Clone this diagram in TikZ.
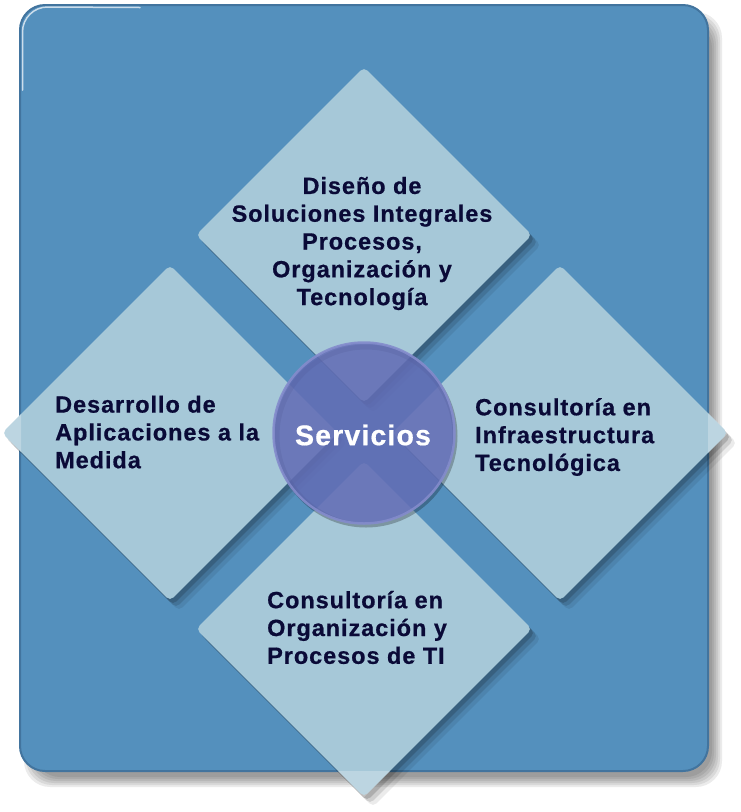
\documentclass[tikz,border=0pt]{standalone}
\usepackage{fontspec}
\setmainfont{Liberation Sans}[LetterSpace=4, BoldFeatures={FakeBold=0.6}]
\usetikzlibrary{shapes.geometric,shadows}
\definecolor{bgblue}{RGB}{84,144,189}
\definecolor{bgedge}{RGB}{66,116,158}
\definecolor{dia}{RGB}{166,200,216}
\definecolor{circ}{RGB}{98,108,180}
\definecolor{circrim}{RGB}{132,140,204}
\definecolor{txt}{RGB}{10,10,55}
\begin{document}
\begin{tikzpicture}[x=1pt,y=-1pt,
  diam/.style={diamond, aspect=1, minimum width=336pt, minimum height=336pt,
    inner sep=0pt, fill=dia, rounded corners=5pt,
    drop shadow={shadow xshift=9pt, shadow yshift=-10pt, opacity=0.08, fill=black},
    drop shadow={shadow xshift=6pt, shadow yshift=-7pt, opacity=0.12, fill=black},
    drop shadow={shadow xshift=3pt, shadow yshift=-4pt, opacity=0.16, fill=black}},
  lbl/.style={text=txt, inner sep=0pt, font=\fontsize{23.5}{27.8}\selectfont\bfseries},
  hub/.style={circle, minimum size=181pt, inner sep=0pt, fill=circ, fill opacity=0.86,
    draw=circrim, draw opacity=0.9, line width=2.5pt}]
\useasboundingbox (0,0) rectangle (741,812);
% background shadow
\foreach \d in {0,2,4,6,8,10}{
  \fill[black, opacity=0.08, rounded corners=26pt] (24+\d,12+\d) rectangle (722-\d,787-\d);
}
% background panel
\node[draw=bgedge, line width=2pt, fill=bgblue, rounded corners=25pt, inner sep=0pt,
  minimum width=688pt, minimum height=766pt] (panel) at (364,388) {};
\draw[white, opacity=0.7, line width=1.5pt, line cap=round]
  (22.5,90) -- (22.5,32) arc[start angle=180, end angle=270, radius=25] -- (140,7.5);
% diamonds
\node[diam] (dtop) at (364,235) {};
\node[diam] (dleft) at (170,433) {};
\node[diam] (dright) at (560,433) {};
\node[diam] (dbot) at (364,629) {};
% lighter tips outside the panel
\begin{scope}
  \clip (0,0) -- (21,0) -- (21,812) -- (0,812) -- cycle;
  \fill[white, opacity=0.25] (dleft.west) -- (dleft.north) -- (dleft.south) -- cycle;
\end{scope}
\begin{scope}
  \clip (708,0) -- (741,0) -- (741,812) -- (708,812) -- cycle;
  \fill[white, opacity=0.25] (dright.east) -- (dright.north) -- (dright.south) -- cycle;
\end{scope}
\begin{scope}
  \clip (0,771) -- (741,771) -- (741,812) -- (0,812) -- cycle;
  \fill[white, opacity=0.25] (dbot.south) -- (dbot.west) -- (dbot.east) -- cycle;
\end{scope}
% centre circle
\draw[black, opacity=0.25, line width=5pt] (366,436) circle[radius=89];
\node[hub] (hub) at (364,433) {};
\node[text=white, inner sep=0pt, font=\fontsize{28.5}{30}\selectfont\bfseries] (servicios) at (363,435) {Servicios};
% labels
\node[lbl, align=center] (ttop) at (362,243.5)
  {Diseño de\\Soluciones Integrales\\Procesos,\\Organización y\\Tecnología};
\node[lbl, align=left, anchor=west] (tleft) at (55,432)
  {Desarrollo de\\Aplicaciones a la\\Medida};
\node[lbl, align=left, anchor=west] (tright) at (475,437)
  {Consultoría en\\Infraestructura\\Tecnológica};
\node[lbl, align=left, anchor=west] (tbot) at (267,627.5)
  {Consultoría en\\Organización y\\Procesos de TI};
\end{tikzpicture}
\end{document}
